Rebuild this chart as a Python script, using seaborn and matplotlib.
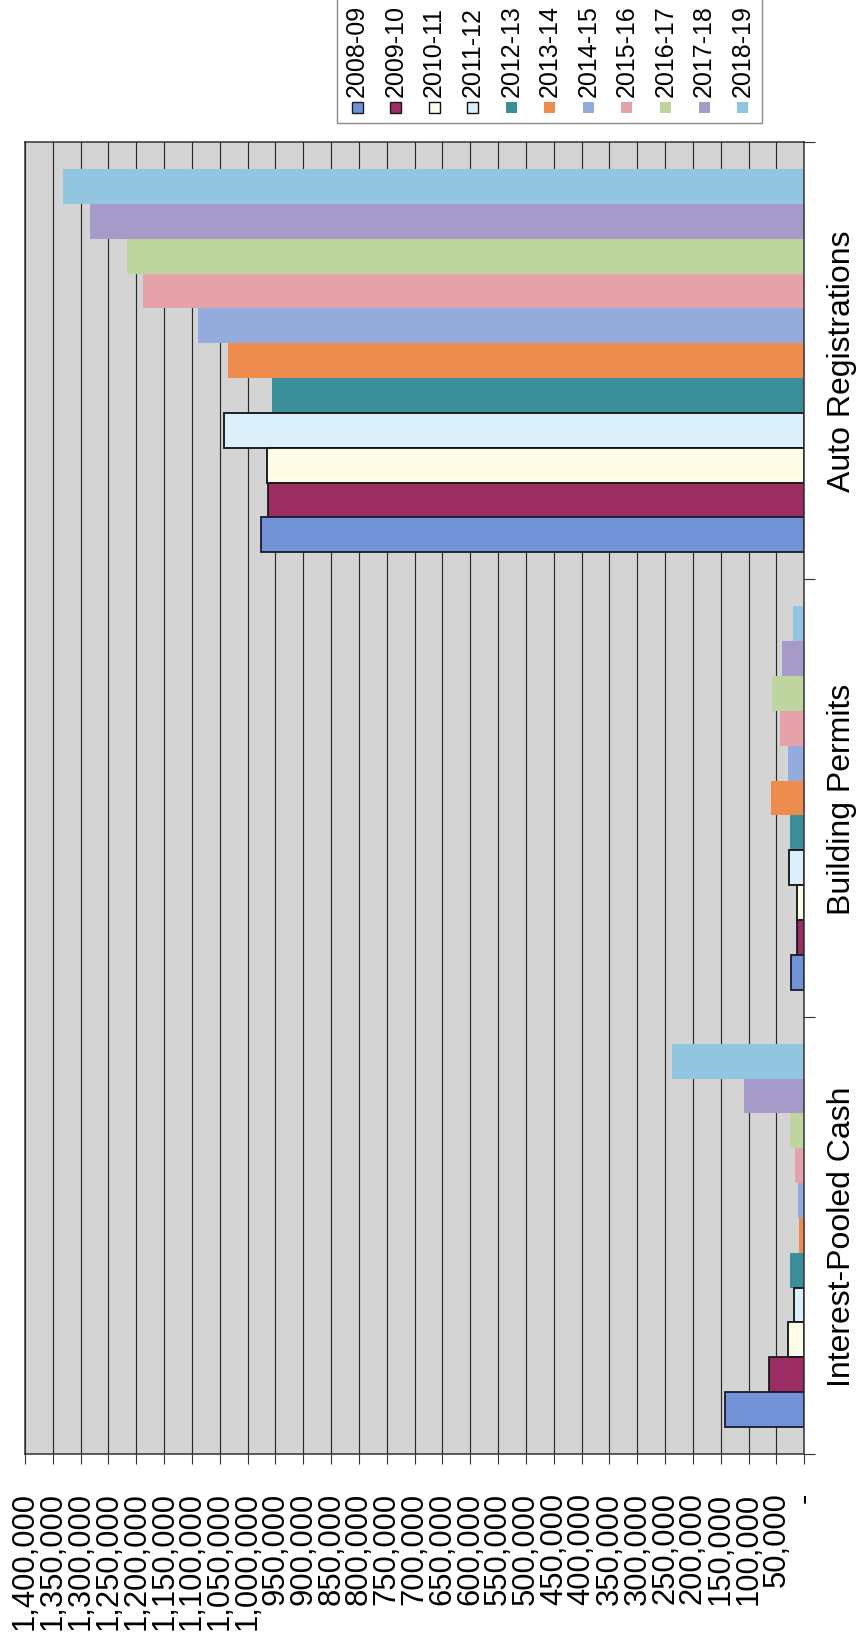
import matplotlib
matplotlib.use("Agg")
import matplotlib.pyplot as plt
import matplotlib.colors as mcolors
from matplotlib.patches import Rectangle
from matplotlib.ticker import FixedLocator, NullFormatter
import pandas as pd
import seaborn as sns

# ---- data -------------------------------------------------------------
categories = ["Interest-Pooled Cash", "Building Permits", "Auto Registrations"]
years = ["2008-09", "2009-10", "2010-11", "2011-12", "2012-13", "2013-14",
         "2014-15", "2015-16", "2016-17", "2017-18", "2018-19"]

interest_pooled_cash = [142500, 63400, 29800, 18000, 25700, 9000,
                        10800, 16700, 25700, 108300, 238200]
building_permits = [24400, 12600, 13700, 26900, 25100, 60400,
                    29300, 43700, 58600, 40000, 20800]
auto_registrations = [976000, 963000, 966000, 1042000, 956000, 1036000,
                      1089000, 1188000, 1216000, 1284000, 1331000]

year_colors = ["#7192d6", "#9c2d62", "#fefbe6", "#dcf0fb", "#3b8f9a", "#ee8c4e",
               "#94acdc", "#e5a2ab", "#bed5a0", "#a69bc8", "#92c5df"]
year_edges = ["#1a1a2e", "#1a1a1a", "#111111", "#111111", None, None,
              None, None, None, None, None]

value_ticks = list(range(0, 1_400_001, 50_000))
value_tick_labels = ["-" if v == 0 else f"{v:,}" for v in value_ticks]

# ---- long-form table --------------------------------------------------
series = {
    "Interest-Pooled Cash": interest_pooled_cash,
    "Building Permits": building_permits,
    "Auto Registrations": auto_registrations,
}
rows = []
for cat in categories:
    for yr, val in zip(years, series[cat]):
        rows.append({"category": cat, "year": yr, "value": val})
df = pd.DataFrame(rows)

# ---- figure -----------------------------------------------------------
W, H = 861, 1640
plt.rcParams["font.family"] = ["Liberation Sans", "DejaVu Sans"]
fig = plt.figure(figsize=(W / 100, H / 100), dpi=100)
fig.patch.set_facecolor("white")

def fx(px):
    return px / W

def fy(py):
    return 1 - py / H

left, right, top, bottom = 25, 804.3, 143, 1455
ax = fig.add_axes([fx(left), fy(bottom), fx(right - left), (bottom - top) / H])

sns.barplot(
    data=df, y="category", x="value", hue="year",
    order=categories[::-1], hue_order=years[::-1],
    palette=dict(zip(years, year_colors)), saturation=1,
    orient="h", width=0.876, gap=0, errorbar=None,
    linewidth=0, legend=False, ax=ax,
)

# outline the first four seasons' bars
color_lookup = {mcolors.to_hex(c): e for c, e in zip(year_colors, year_edges)}
for bar in ax.patches:
    edge = color_lookup.get(mcolors.to_hex(bar.get_facecolor()))
    if edge is not None:
        bar.set_edgecolor(edge)
        bar.set_linewidth(1.3)

ax.set_xlim(1_400_000, 0)
ax.set_ylim(2.5, -0.5)
ax.set_facecolor("#d4d4d4")
ax.set_xlabel("")
ax.set_ylabel("")

# value axis (bottom)
ax.xaxis.set_major_locator(FixedLocator(value_ticks))
ax.set_xticklabels(value_tick_labels, rotation=90, fontsize=22.3,
                   ha="center", va="top")
ax.tick_params(axis="x", direction="out", length=7, width=0.8,
               color="#333333", pad=20, labelcolor="black")
ax.grid(axis="x", color="#2a2a2a", linewidth=0.85)
ax.grid(axis="y", visible=False)
ax.set_axisbelow(True)

# category axis (right)
ax.yaxis.tick_right()
ax.set_yticks([0, 1, 2])
ax.set_yticklabels(categories[::-1], rotation=90, fontsize=23,
                   va="center", ha="left")
ax.set_yticks([-0.5, 0.5, 1.5, 2.5], minor=True)
ax.yaxis.set_minor_formatter(NullFormatter())
ax.tick_params(axis="y", which="major", length=0, pad=16, right=True, left=False)
ax.tick_params(axis="y", which="minor", length=7.7, width=0.8,
               color="#333333", right=True, left=False, direction="out")

for side in ["left", "right", "top", "bottom"]:
    ax.spines[side].set_visible(True)
    ax.spines[side].set_color("#333333")
    ax.spines[side].set_linewidth(1.1)

# ---- legend (one row, rotated entries) ---------------------------------
leg_left, leg_right, leg_bottom = 337, 762, 124
fig.add_artist(Rectangle((fx(leg_left), fy(leg_bottom)),
                         fx(leg_right - leg_left), (leg_bottom + 10) / H,
                         transform=fig.transFigure, facecolor="white",
                         edgecolor="#8a8a8a", linewidth=1.0, clip_on=False))
step = 38.57
msize = 11
for i, (yr, col, edge) in enumerate(zip(years, year_colors, year_edges)):
    cx = 357 + i * step
    cy = 108.5
    fig.add_artist(Rectangle((fx(cx - msize / 2), fy(cy + msize / 2)),
                             msize / W, msize / H, transform=fig.transFigure,
                             facecolor=col,
                             edgecolor=edge if edge else col,
                             linewidth=1.0 if edge else 0))
    fig.text(fx(cx), fy(97), yr, rotation=90, ha="center", va="bottom",
             fontsize=18, color="black")

fig.savefig("out.png", dpi=100, facecolor="white")
